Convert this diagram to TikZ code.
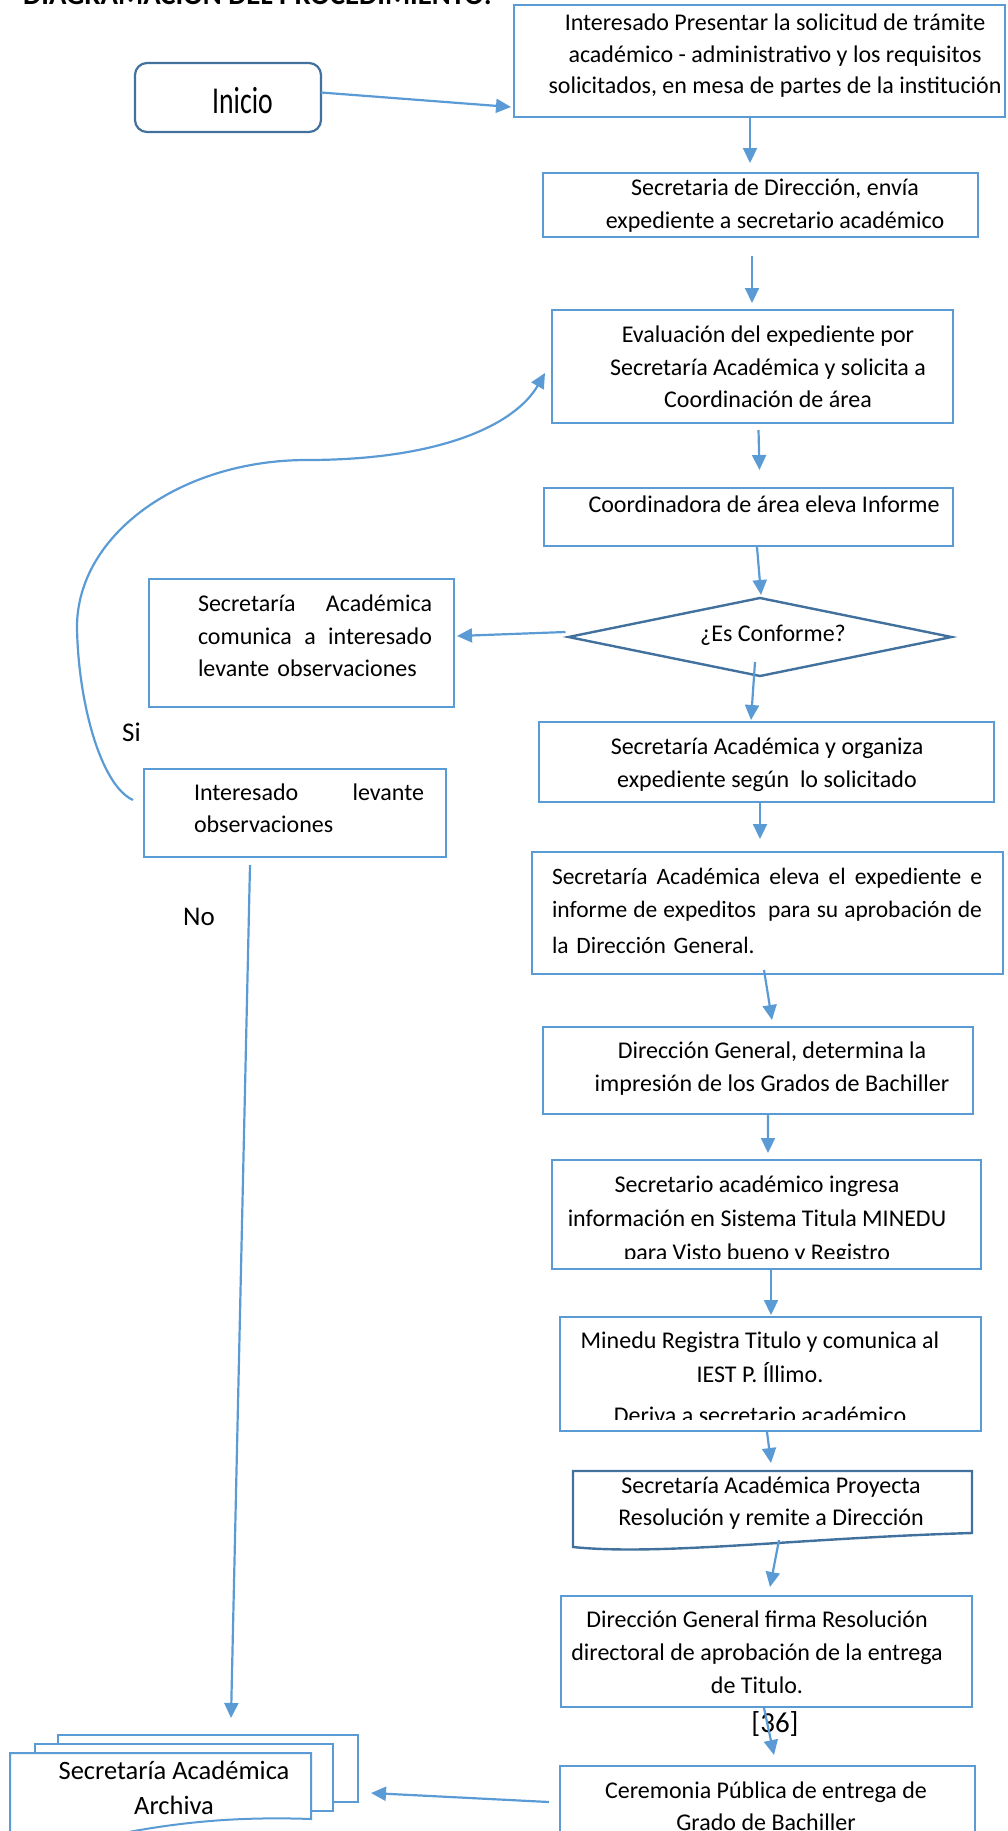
\documentclass[tikz,border=0pt]{standalone}
\usepackage{graphicx}
\usepackage{fontspec}
\setmainfont{Carlito}
\usetikzlibrary{arrows.meta,shapes.geometric,calc}
\definecolor{lblue}{HTML}{5B9BD5}
\definecolor{dblue}{HTML}{41719C}
\newcommand\setfs[2]{\fontsize{#1bp}{#2bp}\selectfont}
\begin{document}
\begin{tikzpicture}[x=1bp,y=-1bp,
  box/.style={draw=lblue,line width=2bp,fill=white,rectangle,inner sep=0pt,outer sep=0pt},
  ghost/.style={rectangle,inner sep=0pt,outer sep=0pt},
  darkline/.style={draw=dblue,line width=2.4bp},
  txt/.style={inner sep=0pt,outer sep=0pt,align=center,anchor=north,font=\setfs{24}{33}},
  one/.style={inner sep=0pt,outer sep=0pt,anchor=base,font=\setfs{24}{33}},
  arr/.style={draw=lblue,line width=2.2bp,-{Triangle[length=15bp,width=14bp]}},
  sheet/.style={draw=lblue,line width=2bp,fill=white},
]
\useasboundingbox (0,0) rectangle (1007,1831);

% heading (cut by the page edge)
\node[anchor=base west,inner sep=0pt,font=\setfs{28.8}{32}\bfseries] (title) at (23,4) {DIAGRAMACIÓN DEL PROCEDIMIENTO:};

% start terminal
\node[box,draw=dblue,line width=2.2bp,rounded corners=12bp,minimum width=186bp,minimum height=69bp] (ini) at (228,97.5) {};
\node[one,font=\setfs{38}{40}] (init) at (242.5,113) {\scalebox{0.73}[1]{Inicio}};

% main column
\node[box,minimum width=491bp,minimum height=112bp] (b1) at (759.5,61) {};
\node[txt,font=\setfs{24}{31.5}] (b1t) at (775,8.6) {\strut Interesado Presentar la solicitud de trámite\\académico - administrativo y los requisitos\\solicitados, en mesa de partes de la institución};

\node[box,minimum width=435bp,minimum height=64bp] (b2) at (760.5,205) {};
\node[txt] (b2t) at (775,172.5) {\strut Secretaria de Dirección, envía\\expediente a secretario académico};

\node[box,minimum width=401bp,minimum height=113bp] (b3) at (752.5,366.5) {};
\node[txt,font=\setfs{24}{32.5}] (b3t) at (768,319.9) {\strut Evaluación del expediente por\\Secretaría Académica y solicita a\\Coordinación de área};

\node[box,minimum width=409bp,minimum height=58bp] (b4) at (748.5,517) {};
\node[one] (b4t) at (764,512.6) {Coordinadora de área eleva Informe};

\node[diamond,darkline,fill=white,inner sep=0pt,outer sep=0pt,minimum width=383bp,minimum height=78bp] (dia) at (760,637) {};
\node[one] (diat) at (773,641) {¿Es Conforme?};

\node[box,minimum width=455bp,minimum height=80bp] (b5) at (766.5,762) {};
\node[txt] (b5t) at (767,731.5) {\strut Secretaría Académica y organiza\\expediente según\ \ lo solicitado};

\node[box,minimum width=471bp,minimum height=122bp] (b6) at (767.5,913) {};
\node[txt,anchor=north west,align=left,text width=430bp,font=\setfs{23.5}{33}] (b6t) at (552,861.5)
  {\strut\makebox[430bp][l]{Secretaría\hfill Académica\hfill eleva\hfill el\hfill expediente\hfill e}\\
   \makebox[430bp][l]{informe\hfill de\hfill expeditos\hfill\hfill para\hfill su\hfill aprobación\hfill de}\\[3bp]
   la Dirección General.};

\node[box,minimum width=430bp,minimum height=87bp] (b7) at (758,1070.5) {};
\node[txt] (b7t) at (772,1035.5) {\strut Dirección General, determina la\\impresión de los Grados de Bachiller};

\node[box,minimum width=429bp,minimum height=109bp] (b8) at (766.5,1214.5) {};
\begin{scope}
  \clip (b8.north west) rectangle ($(b8.south east)+(0,-11)$);
  \node[txt,font=\setfs{24}{34}] (b8t) at (757,1168.8) {\strut Secretario académico ingresa\\información en Sistema Titula MINEDU\\para Visto bueno y Registro};
\end{scope}

\node[box,minimum width=421bp,minimum height=114bp] (b9) at (770.5,1374) {};
\begin{scope}
  \clip (b9.north west) rectangle ($(b9.south east)+(0,-12)$);
  \node[txt,font=\setfs{24}{34}] (b9t) at (760,1324.8) {\strut Minedu Registra Titulo y comunica al\\IEST P. Íllimo.\\[7bp]Deriva a secretario académico};
\end{scope}

% document shape with a wavy lower edge
\node[ghost,minimum width=399bp,minimum height=70bp] (b10) at (772.5,1506) {};
\draw[darkline,fill=white] (b10.north west) -- (b10.north east) -- ($(b10.north east)+(0,62)$)
  .. controls (800,1538) and (660,1556) .. ($(b10.north west)+(0,76)$) -- cycle;
\node[txt,font=\setfs{24}{32}] (b10t) at (771,1471.2) {\strut Secretaría Académica Proyecta\\Resolución y remite a Dirección};

\node[box,minimum width=411bp,minimum height=111bp] (b11) at (766.5,1651.5) {};
\node[txt] (b11t) at (757,1604.5) {\strut Dirección General firma Resolución\\directoral de aprobación de la entrega\\de Titulo.};

\node[one,font=\setfs{29}{32}] (ref) at (775,1732) {[36]};

\node[box,minimum width=415bp,minimum height=84bp] (b12) at (767.5,1808) {};
\node[txt,font=\setfs{24}{32}] (b12t) at (766,1776.2) {\strut Ceremonia Pública de entrega de\\Grado de Bachiller};

% left column
\node[box,minimum width=305bp,minimum height=128bp] (l1) at (301.5,643) {};
\node[txt,anchor=north west,align=left,text width=234bp,font=\setfs{24}{32.5}] (l1t) at (198,589)
  {\strut\makebox[234bp][l]{Secretaría\hfill Académica}\\
   \makebox[234bp][l]{comunica\hfill a\hfill interesado}\\
   levante observaciones};

\node[box,minimum width=302bp,minimum height=88bp] (l2) at (295,813) {};
\node[txt,anchor=north west,align=left,text width=230bp,font=\setfs{24}{32}] (l2t) at (194,778.2)
  {\strut\makebox[230bp][l]{Interesado\hfill levante}\\observaciones};

\node[one,font=\setfs{27}{30}] (si) at (131.5,741) {Si};
\node[one,font=\setfs{27}{30}] (no) at (199,925) {No};

% stacked archive documents
\node[ghost,minimum width=348bp,minimum height=96bp] (arch) at (184,1783) {};
\draw[sheet] (58,1735) rectangle (358,1802);
\draw[sheet] (35,1744) rectangle (333,1811);
\draw[sheet] (10,1753) -- (311,1753) -- (311,1819) .. controls (200,1815) and (120,1830) .. (10,1860) -- cycle;
\node[txt,font=\setfs{26.5}{35}] (archt) at (174,1754.7) {\strut Secretaría Académica\\Archiva};

% connectors
\draw[arr] ($(ini.east)+(0,-5)$) -- ($(b1.west)+(-3,46)$);
\draw[arr] ($(b1.south)+(-9.5,0)$) -- ($(b2.north)+(-10.5,-10)$);
\draw[arr] ($(b2.south)+(-8.5,19)$) -- ($(b3.north)+(-0.5,-7)$);
\draw[arr] ($(b3.south)+(6,7)$) -- ($(b4.north)+(11,-18)$);
\draw[arr] ($(b4.south)+(8.5,1)$) -- ($(dia.north)+(1,-3)$);
\draw[arr] ($(dia.west)+(-3,-5)$) -- ($(l1.east)+(3,-7)$);
\draw[arr] ($(dia.south)+(-5,-14)$) -- ($(b5.north)+(-15.5,-2)$);
\draw[arr] ($(b5.south)+(-6.5,0)$) -- ($(b6.north)+(-7.5,-13)$);
\draw[arr] ($(b6.south)+(-3.5,-4)$) -- ($(b7.north)+(14,-7)$);
\draw[arr] ($(b7.south)+(10,-1)$) -- ($(b8.north)+(1.5,-7)$);
\draw[arr] ($(b8.south)+(4.5,1)$) -- ($(b9.north)+(0.5,-2)$);
\draw[arr] ($(b9.south)+(-3.5,1)$) -- ($(b10.north)+(-1.5,-8)$);
\draw[arr] ($(b10.south)+(6.5,-1)$) -- ($(b11.north)+(3.5,-9)$);
\draw[arr] ($(b11.south)+(-2.5,1)$) -- ($(b12.north)+(6.5,-11)$);
\draw[arr] ($(b12.west)+(-11,-6)$) -- ($(arch.east)+(13,10)$);
\draw[arr] ($(l2.south)+(-45,8)$) -- ($(arch.north)+(47,-17)$);
\draw[arr] ($(l2.west)+(-11,-13)$) .. controls (100,785) and (78,700) .. (77,627)
  .. controls (77,535) and (180,460) .. (307,460)
  .. controls (440,460) and (515,425) .. ($(b3.west)+(-7,6.5)$);
\end{tikzpicture}
\end{document}
